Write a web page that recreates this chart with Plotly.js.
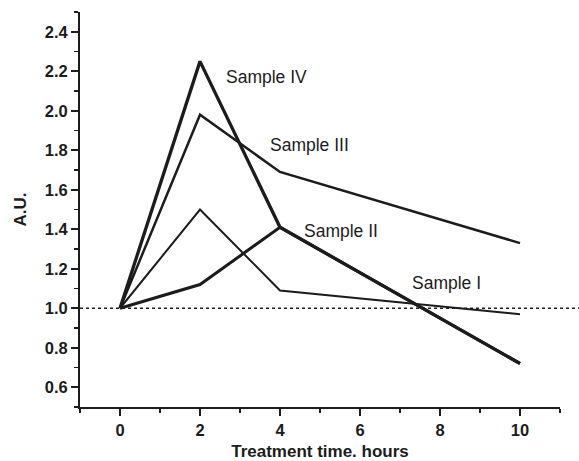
<!DOCTYPE html>
<html>
<head>
<meta charset="utf-8">
<script src="https://cdn.plot.ly/plotly-3.0.1.min.js"></script>
<style>html,body{margin:0;padding:0;background:#fff;}#chart{width:579px;height:461px;}</style>
</head>
<body>
<div id="chart"></div>
<script>
const hours = [0, 2, 4, 10];
const sampleI = [1.0, 1.50, 1.09, 0.97];
const sampleII = [1.0, 1.12, 1.41, 0.72];
const sampleIII = [1.0, 1.98, 1.69, 1.33];
const sampleIV = [1.0, 2.25, 1.41, 0.72];
const seriesNames = ["Sample I", "Sample II", "Sample III", "Sample IV"];
const baseline = 1.0;
const xTicks = [0, 2, 4, 6, 8, 10];
const yTicks = [0.6, 0.8, 1.0, 1.2, 1.4, 1.6, 1.8, 2.0, 2.2, 2.4];

const ink = '#1c1c1c';
const fam = '"Liberation Sans", Arial, sans-serif';
const series = [sampleI, sampleII, sampleIII, sampleIV];
const widths = [2, 3, 2.5, 3.3];
const traces = series.map((ys, i) => ({
  x: hours, y: ys, type: 'scatter', mode: 'lines', name: seriesNames[i],
  line: {color: ink, width: widths[i]}, showlegend: false, hoverinfo: 'skip'
}));

const layout = {
  width: 579, height: 461,
  margin: {l: 80, r: 19, t: 12, b: 54},
  paper_bgcolor: '#fff', plot_bgcolor: '#fff',
  font: {family: fam, color: ink},
  showlegend: false,
  xaxis: {
    range: [-1, 11], tickvals: xTicks, ticktext: xTicks.map(String),
    showgrid: false, zeroline: false, showline: true, linecolor: ink, linewidth: 2,
    ticks: 'outside', ticklen: 7, tickwidth: 2, tickcolor: ink,
    minor: {dtick: 1, tick0: 0, ticks: 'outside', ticklen: 4, tickwidth: 1.5, tickcolor: ink, showgrid: false},
    tickfont: {size: 16.5, family: fam, weight: 'bold'},
    title: {text: '<b>Treatment time. hours</b>', font: {size: 17}, standoff: 10}
  },
  yaxis: {
    range: [0.5, 2.5], tickvals: yTicks, ticktext: yTicks.map(v => v.toFixed(1)),
    showgrid: false, zeroline: false, showline: true, linecolor: ink, linewidth: 2,
    ticks: 'outside', ticklen: 7, tickwidth: 2, tickcolor: ink,
    minor: {dtick: 0.1, tick0: 0.5, ticks: 'outside', ticklen: 4, tickwidth: 1.5, tickcolor: ink, showgrid: false},
    tickfont: {size: 16.5, family: fam, weight: 'bold'},
    title: {text: '<b>A.U.</b>', font: {size: 17}, standoff: 14}
  },
  shapes: [{
    type: 'line', xref: 'paper', yref: 'y', x0: 0, x1: 1.04, y0: baseline, y1: baseline,
    line: {color: ink, width: 1.5, dash: 'dot'}
  }],
  annotations: [
    {x: 8.16, y: 1.13, text: seriesNames[0]},
    {x: 5.53, y: 1.39, text: seriesNames[1]},
    {x: 4.73, y: 1.825, text: seriesNames[2]},
    {x: 3.66, y: 2.17, text: seriesNames[3]}
  ].map(a => Object.assign(a, {xref: 'x', yref: 'y', showarrow: false, font: {size: 17.5, color: ink}}))
};

Plotly.newPlot('chart', traces, layout, {staticPlot: true, displayModeBar: false});
</script>
</body>
</html>
